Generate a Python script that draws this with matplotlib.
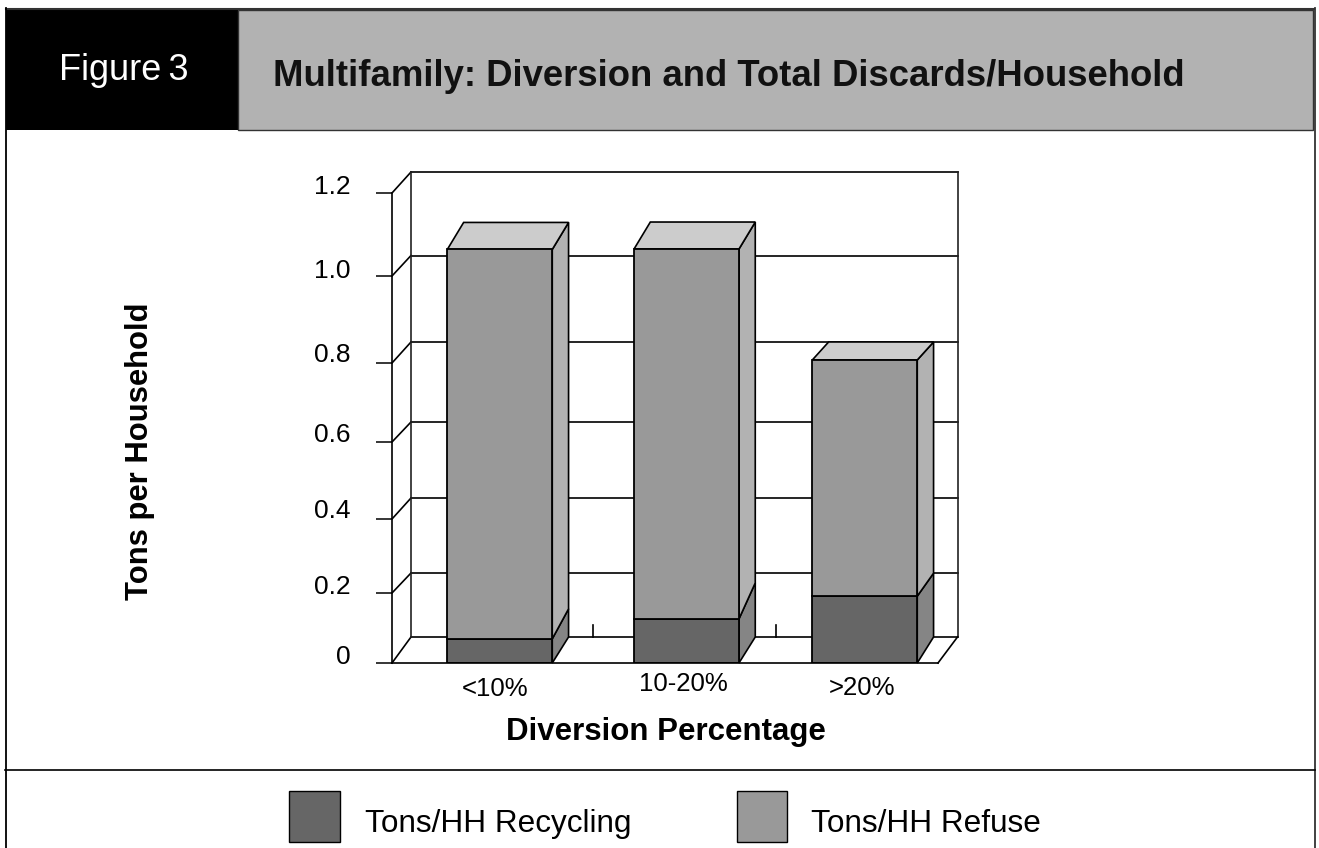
import matplotlib
matplotlib.use('Agg')
import matplotlib.pyplot as plt
from matplotlib.patches import Polygon, Rectangle
from matplotlib.transforms import Affine2D
import numpy as np

plt.rcParams['font.family'] = ['Liberation Sans', 'DejaVu Sans']

# data
categories = ['<10%', '10-20%', '>20%']
recycling = [0.069, 0.126, 0.191]
refuse = [0.995, 0.939, 0.616]
tick_vals = [0, 0.2, 0.4, 0.6, 0.8, 1.0, 1.2]
tick_labels = ['0', '0.2', '0.4', '0.6', '0.8', '1.0', '1.2']

W, H = 1319, 848

# the axis in the original is not evenly spaced, so map it piece by piece
tick_h = [0, 70, 144, 221, 300, 387, 470]
def forward(v):
    return np.interp(v, tick_vals, tick_h)
def inverse(h):
    return np.interp(h, tick_h, tick_vals)

fig = plt.figure(figsize=(W / 100, H / 100), dpi=100, facecolor='white')

# pixel canvas for frame and the fake 3d parts
bg = fig.add_axes([0, 0, 1, 1])
bg.set_xlim(0, W)
bg.set_ylim(H, 0)
bg.axis('off')

# header + frame
bg.add_patch(Rectangle((6, 8), 232, 122, fc='black', ec='none'))
bg.add_patch(Rectangle((238, 10), 1075, 120, fc='#b2b2b2', ec='#333333', lw=1))
bg.plot([5.5, 1314], [8.5, 8.5], color='#333333', lw=1.5)
bg.plot([5.5, 5.5], [8, H], color='black', lw=1.3)
bg.plot([1314.5, 1314.5], [8, H], color='#333333', lw=1.3)
bg.plot([5, 1315], [770, 770], color='black', lw=1.2)
bg.text(124, 71, 'Figure\u20093', color='white', fontsize=26, ha='center', va='center')
bg.text(273, 76, 'Multifamily: Diversion and Total Discards/Household', fontsize=26.3,
        fontweight='bold', color='#111111', ha='left', va='center')

# chart front plane
x0, x1, y_base, y_top = 392, 938, 663, 193
ax = fig.add_axes([x0 / W, 1 - y_base / H, (x1 - x0) / W, (y_base - y_top) / H])
ax.patch.set_alpha(0)
ax.set_yscale('function', functions=(forward, inverse))
ax.set_ylim(0, 1.2)
unit = 182.5
ax.set_xlim((x0 - 499.8) / unit, (x1 - 499.8) / unit)

pos = [0, 1.023, 2]
bar_w = 0.575
ax.bar(pos, recycling, bar_w, color='#666666', edgecolor='black', lw=1.3)
ax.bar(pos, refuse, bar_w, bottom=recycling, color='#999999', edgecolor='black', lw=1.3)

for s in ['top', 'right']:
    ax.spines[s].set_visible(False)
ax.spines['left'].set_linewidth(1.2)
ax.spines['bottom'].set_linewidth(1.2)
ax.set_yticks(tick_vals)
ax.set_yticklabels(tick_labels, fontsize=19)
ax.yaxis.set_minor_locator(plt.NullLocator())
ax.tick_params(axis='y', length=11.5, width=1.1, pad=18.5)
ax.set_xticks(pos)
ax.set_xticklabels(categories, fontsize=18.5)
ax.tick_params(axis='x', length=0, pad=10)

# labels sit a bit off their ticks in the original
y_nudge = [8, 9, 10, 9, 10, 8, 9]
for lbl, d in zip(ax.get_yticklabels(), y_nudge):
    lbl.set_transform(lbl.get_transform() + Affine2D().translate(0, d))
x_nudge = [(-5, 0), (-3, 5), (-3, 1)]
for lbl, d in zip(ax.get_xticklabels(), x_nudge):
    lbl.set_transform(lbl.get_transform() + Affine2D().translate(d[0], d[1]))

bg.text(666, 732, 'Diversion Percentage', fontsize=22.5, fontweight='bold', ha='center', va='center')
bg.text(140, 451.5, 'Tons per Household', fontsize=22.3, fontweight='bold', rotation=90,
        ha='center', va='center')

# back wall and side wall
wall_x0, wall_x1 = 411, 957.5
wall_y = [637, 573, 498, 422, 342, 255.5, 172]
for v, wy in zip(tick_vals, wall_y):
    bg.plot([wall_x0, wall_x1], [wy, wy], color='black', lw=1.2)
    fy = y_base - forward(v)
    bg.plot([x0, wall_x0], [fy, wy], color='black', lw=1.2)
bg.plot([wall_x0, wall_x0], [wall_y[0], wall_y[-1]], color='#222222', lw=1.2)
bg.plot([wall_x1, wall_x1], [wall_y[0], wall_y[-1]], color='#222222', lw=1.2)
bg.plot([x1, wall_x1], [y_base, wall_y[0]], color='black', lw=1.2)
for tx in [593, 776]:
    bg.plot([tx, tx], [625, 637], color='black', lw=1.2)

# depth faces of the bars, each bar has its own rise in the original
def to_px(x, v):
    p = ax.transData.transform((x, v))
    return p[0], H - p[1]

depth = 16.3
rise_base, rise_mid, rise_top = 26, [30, 36, 23], [27, 27, 18]
for i in range(len(pos)):
    xl = pos[i] - bar_w / 2
    xr = pos[i] + bar_w / 2
    total = recycling[i] + refuse[i]
    rx, by = to_px(xr, 0)
    lx, ty = to_px(xl, total)
    _, my = to_px(xr, recycling[i])
    r_m, r_t = rise_mid[i], rise_top[i]
    bg.add_patch(Polygon([(rx, by), (rx + depth, by - rise_base), (rx + depth, my - r_m), (rx, my)],
                         fc='#858585', ec='black', lw=1.2, zorder=3))
    bg.add_patch(Polygon([(rx, my), (rx + depth, my - r_m), (rx + depth, ty - r_t), (rx, ty)],
                         fc='#b2b2b2', ec='black', lw=1.2, zorder=3))
    bg.add_patch(Polygon([(lx, ty), (lx + depth, ty - r_t), (rx + depth, ty - r_t), (rx, ty)],
                         fc='#cccccc', ec='black', lw=1.2, zorder=3))

# legend
bg.add_patch(Rectangle((289, 791), 51, 51, fc='#666666', ec='black', lw=1))
bg.add_patch(Rectangle((737, 791), 50, 51, fc='#999999', ec='black', lw=1))
bg.text(365, 824, 'Tons/HH Recycling', fontsize=22.7, ha='left', va='center')
bg.text(811, 824, 'Tons/HH Refuse', fontsize=22.7, ha='left', va='center')

fig.savefig('out.png', dpi=100)
